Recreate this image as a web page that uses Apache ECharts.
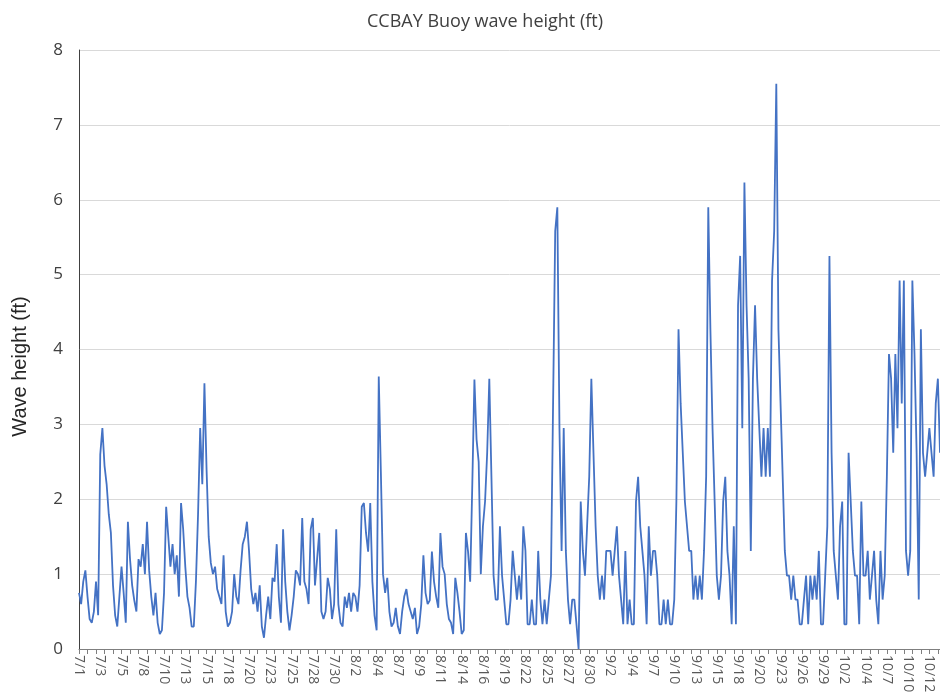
<!DOCTYPE html>
<html>
<head>
<meta charset="utf-8">
<script src="https://cdn.jsdelivr.net/npm/echarts@6/dist/echarts.min.js"></script>
<style>
html,body{margin:0;padding:0;background:#fff;}
#chart{width:940px;height:692px;}
</style>
</head>
<body>
<div id="chart"></div>
<script>
// Date tick labels (one per label interval on the category axis)
const tickLabels = ['7/1','7/3','7/5','7/8','7/10','7/13','7/15','7/18','7/20','7/23','7/25','7/28','7/30',
  '8/2','8/4','8/7','8/9','8/11','8/14','8/16','8/19','8/22','8/25','8/27','8/30',
  '9/2','9/4','9/7','9/10','9/13','9/15','9/18','9/20','9/23','9/26','9/29',
  '10/2','10/4','10/7','10/10','10/12'];

// Wave height (ft), 10 readings per label interval
const waveJul = [
  0.75, 0.6, 0.9, 1.05, 0.7, 0.4, 0.35, 0.5, 0.9, 0.45,        // 7/1
  2.6, 2.95, 2.45, 2.2, 1.8, 1.55, 0.85, 0.45, 0.3, 0.7,       // 7/3
  1.1, 0.75, 0.35, 1.7, 1.2, 0.85, 0.65, 0.5, 1.2, 1.1,        // 7/5
  1.4, 1.0, 1.7, 1.05, 0.7, 0.45, 0.75, 0.35, 0.2, 0.25,       // 7/8
  0.75, 1.9, 1.5, 1.1, 1.4, 1.0, 1.25, 0.7, 1.95, 1.6,         // 7/10
  1.1, 0.7, 0.55, 0.3, 0.3, 0.9, 1.8, 2.95, 2.2, 3.55,         // 7/13
  2.4, 1.5, 1.15, 1.0, 1.1, 0.8, 0.7, 0.6, 1.25, 0.5,          // 7/15
  0.3, 0.35, 0.5, 1.0, 0.7, 0.6, 1.05, 1.4, 1.5, 1.7,          // 7/18
  1.3, 0.8, 0.6, 0.75, 0.5, 0.85, 0.3, 0.15, 0.45, 0.7,        // 7/20
  0.4, 0.95, 0.9, 1.4, 0.7, 0.35, 1.6, 0.9, 0.5, 0.25,         // 7/23
  0.45, 0.7, 1.05, 1.0, 0.85, 1.75, 0.9, 0.8, 0.6, 1.6,        // 7/25
  1.75, 0.85, 1.2, 1.55, 0.5, 0.4, 0.5, 0.95, 0.8, 0.4,        // 7/28
  0.6, 1.6, 0.6, 0.35, 0.3, 0.7, 0.55, 0.75, 0.5, 0.75         // 7/30
];
const waveAug = [
  0.7, 0.5, 0.85, 1.9, 1.95, 1.55, 1.3, 1.95, 0.9, 0.45,       // 8/2
  0.25, 3.64, 2.35, 1.0, 0.75, 0.95, 0.5, 0.3, 0.35, 0.55,     // 8/4
  0.3, 0.2, 0.5, 0.7, 0.8, 0.6, 0.5, 0.4, 0.55, 0.2,           // 8/7
  0.3, 0.6, 1.25, 0.75, 0.6, 0.65, 1.3, 0.9, 0.7, 0.55,        // 8/9
  1.55, 1.1, 1.0, 0.6, 0.4, 0.35, 0.2, 0.95, 0.75, 0.5,        // 8/11
  0.2, 0.25, 1.55, 1.3, 0.9, 2.2, 3.6, 2.8, 2.5, 1.0,          // 8/14
  1.64, 1.97, 2.62, 3.61, 2.3, 0.98, 0.66, 0.66, 1.64, 0.98,   // 8/16
  0.66, 0.33, 0.33, 0.66, 1.31, 0.98, 0.66, 0.98, 0.66, 1.64,  // 8/19
  1.31, 0.33, 0.33, 0.66, 0.33, 0.33, 1.31, 0.66, 0.33, 0.66,  // 8/22
  0.33, 0.66, 0.98, 3.28, 5.58, 5.9, 2.95, 1.31, 2.95, 1.31,   // 8/25
  0.66, 0.33, 0.66, 0.66, 0.33, 0.0, 1.97, 1.31, 0.98, 1.64,   // 8/27
  2.3, 3.61, 2.62, 1.64, 0.98, 0.66, 0.98, 0.66, 1.31, 1.31    // 8/30
];
const waveSep = [
  1.31, 0.98, 1.31, 1.64, 0.98, 0.66, 0.33, 1.31, 0.33, 0.66,  // 9/2
  0.33, 0.33, 1.97, 2.3, 1.64, 1.31, 0.98, 0.33, 1.64, 0.98,   // 9/4
  1.31, 1.31, 0.98, 0.33, 0.33, 0.66, 0.33, 0.66, 0.33, 0.33,  // 9/7
  0.66, 1.97, 4.27, 3.28, 2.62, 1.97, 1.64, 1.31, 1.31, 0.66,  // 9/10
  0.98, 0.66, 0.98, 0.66, 1.31, 2.3, 5.9, 4.27, 2.95, 1.97,    // 9/13
  0.98, 0.66, 0.98, 1.97, 2.3, 1.31, 0.98, 0.33, 1.64, 0.33,   // 9/15
  4.59, 5.25, 2.95, 6.23, 4.59, 3.61, 1.31, 3.61, 4.59, 3.61,  // 9/18
  2.95, 2.3, 2.95, 2.3, 2.95, 2.3, 4.92, 5.58, 7.55, 4.27,     // 9/20
  3.28, 2.3, 1.31, 0.98, 0.98, 0.66, 0.98, 0.66, 0.66, 0.33,   // 9/23
  0.33, 0.66, 0.98, 0.33, 0.98, 0.66, 0.98, 0.66, 1.31, 0.33,  // 9/26
  0.33, 0.98, 1.64, 5.25, 2.62, 1.31, 0.98, 0.66, 1.64, 1.97   // 9/29
];
const waveOct = [
  0.33, 0.33, 2.62, 1.97, 1.31, 0.98, 0.98, 0.33, 1.97, 0.98,  // 10/2
  0.98, 1.31, 0.66, 0.98, 1.31, 0.66, 0.33, 1.31, 0.66, 0.98,  // 10/4
  2.3, 3.94, 3.61, 2.62, 3.94, 2.95, 4.92, 3.28, 4.92, 1.31,   // 10/7
  0.98, 1.31, 4.92, 3.94, 2.62, 0.66, 4.27, 2.62, 2.3, 2.62,   // 10/10
  2.95, 2.62, 2.3, 3.28, 3.61, 2.62                            // 10/12
];

const perLabel = 10;
const values = waveJul.concat(waveAug, waveSep, waveOct);
const categories = values.map((v, i) => {
  const li = Math.floor(i / perLabel), k = i % perLabel;
  return k === 0 ? tickLabels[li] : tickLabels[li] + ' #' + k;
});

const chart = echarts.init(document.getElementById('chart'), null, {renderer: 'canvas'});
chart.setOption({
  animation: false,
  backgroundColor: '#ffffff',
  title: {
    text: 'CCBAY Buoy wave height (ft)',
    left: 362, top: 8,
    textStyle: {fontFamily: 'Open Sans', fontSize: 18, fontWeight: 'normal', color: '#404040'}
  },
  grid: {left: 79, right: 0, top: 50, bottom: 43, containLabel: false, outerBoundsMode: 'none'},
  xAxis: {
    type: 'category',
    data: categories,
    boundaryGap: false,
    axisLine: {show: true, lineStyle: {color: '#7f7f7f', width: 1}},
    axisTick: {show: true, interval: 3, length: 5, lineStyle: {color: '#7f7f7f'}},
    axisLabel: {
      interval: perLabel - 1, rotate: -90, margin: 6,
      fontFamily: 'Open Sans', fontSize: 14, color: '#595959',
      formatter: v => v.split(' ')[0]
    },
    splitLine: {show: false}
  },
  yAxis: {
    type: 'value', min: 0, max: 8, interval: 1,
    name: 'Wave height (ft)', nameLocation: 'middle', nameGap: 49,
    nameTextStyle: {fontFamily: 'Liberation Sans', fontSize: 20, color: '#262626', padding: [0, 34, 0, 0]},
    axisLine: {show: true, lineStyle: {color: '#404040', width: 1}},
    axisTick: {show: false},
    axisLabel: {fontFamily: 'Open Sans', fontSize: 17, color: '#404040', margin: 16},
    splitLine: {lineStyle: {color: '#d9d9d9', width: 1}}
  },
  series: [{
    type: 'line',
    data: values,
    showSymbol: false,
    lineStyle: {color: '#4472C4', width: 1.8},
    itemStyle: {color: '#4472C4'}
  }]
});
</script>
</body>
</html>
